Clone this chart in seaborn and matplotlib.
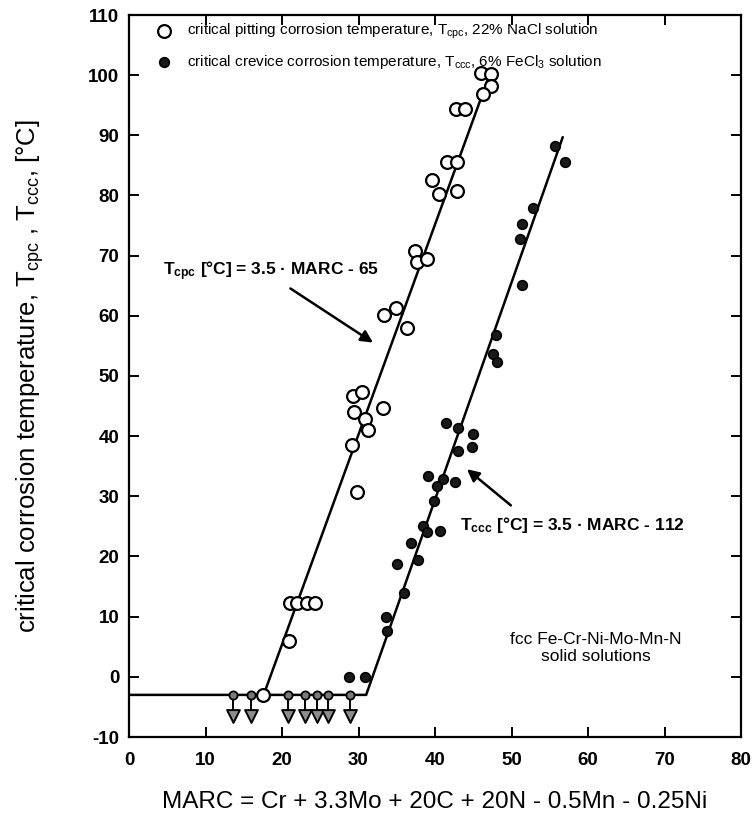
import matplotlib
matplotlib.use("Agg")
import matplotlib.pyplot as plt
import seaborn as sns
import pandas as pd
import numpy as np

# ---- data ----
cpc_x = [46.0, 47.3, 47.3, 46.3, 42.7, 43.9, 41.6, 42.9, 39.6, 40.5, 42.9,
         37.4, 37.6, 38.9, 33.3, 34.9, 36.3, 29.3, 30.5, 29.4, 33.2, 30.8,
         31.2, 29.2, 29.8, 21.0, 21.9, 23.3, 24.3, 20.9, 17.5]
cpc_y = [100.3, 100.2, 98.2, 96.8, 94.3, 94.3, 85.5, 85.5, 82.5, 80.2, 80.8,
         70.8, 69.0, 69.5, 60.2, 61.3, 58.0, 46.7, 47.3, 44.0, 44.7, 42.8,
         41.0, 38.5, 30.7, 12.3, 12.3, 12.3, 12.3, 6.0, -3.0]

ccc_x = [55.7, 57.0, 52.8, 51.4, 51.1, 51.4, 48.0, 47.6, 48.1, 41.4, 43.0,
         45.0, 43.0, 44.8, 39.1, 41.0, 42.6, 40.3, 39.9, 38.4, 38.9, 40.7,
         36.9, 35.0, 37.8, 36.0, 33.6, 33.7, 28.8, 30.8]
ccc_y = [88.2, 85.5, 78.0, 75.3, 72.7, 65.2, 56.8, 53.7, 52.3, 42.2, 41.3,
         40.3, 37.5, 38.2, 33.3, 32.8, 32.3, 31.7, 29.2, 25.0, 24.0, 24.2,
         22.2, 18.8, 19.5, 14.0, 10.0, 7.7, 0.0, 0.0]

below_x = [13.6, 15.9, 20.8, 23.0, 24.6, 26.0, 28.9]
floor_level = -3.0
below_tip = -6.5

fit_cpc_x = [0.0, 17.6, 47.4]
fit_cpc_y = [-3.0, -3.0, 101.0]
fit_ccc_x = [17.6, 31.0, 56.7]
fit_ccc_y = [-3.0, -3.0, 89.7]

xticks = [0, 10, 20, 30, 40, 50, 60, 70, 80]
yticks = [-10, 0, 10, 20, 30, 40, 50, 60, 70, 80, 90, 100, 110]

legend_cpc = "critical pitting corrosion temperature, T$_\\mathregular{cpc}$, 22% NaCl solution"
legend_ccc = "critical crevice corrosion temperature, T$_\\mathregular{ccc}$, 6% FeCl$_\\mathregular{3}$ solution"
ann_cpc = "T$_\\mathregular{cpc}$ [°C] = 3.5 · MARC - 65"
ann_ccc = "T$_\\mathregular{ccc}$ [°C] = 3.5 · MARC - 112"
ann_alloy = "fcc Fe-Cr-Ni-Mo-Mn-N\nsolid solutions"
xlabel = "MARC = Cr + 3.3Mo + 20C + 20N - 0.5Mn - 0.25Ni"
ylabel = "critical corrosion temperature, T$_\\mathregular{cpc}$ , T$_\\mathregular{ccc}$, [°C]"

# ---- style ----
sns.set_style("ticks")
plt.rcParams['font.family'] = ['Liberation Sans', 'DejaVu Sans']
plt.rcParams['mathtext.default'] = 'regular'
plt.rcParams['axes.unicode_minus'] = False
plt.rcParams['text.color'] = 'black'
plt.rcParams['axes.labelcolor'] = 'black'
plt.rcParams['xtick.color'] = 'black'
plt.rcParams['ytick.color'] = 'black'
plt.rcParams['axes.edgecolor'] = 'black'

fig = plt.figure(figsize=(7.53, 8.25), dpi=100)
ax = fig.add_axes([129/753, 1 - 737/825, 612/753, 722/825])

# fit lines
sns.lineplot(x=fit_cpc_x, y=fit_cpc_y, ax=ax, color='black', lw=1.8, sort=False)
sns.lineplot(x=fit_ccc_x, y=fit_ccc_y, ax=ax, color='black', lw=1.8, sort=False)

# censored points (below detection)
bdf = pd.DataFrame({"x": below_x, "y": [floor_level]*len(below_x),
                    "tip": [below_tip]*len(below_x)})
ax.vlines(bdf["x"], bdf["y"], bdf["tip"] + 1.0, color='black', lw=1.4)
sns.scatterplot(data=bdf, x="x", y="tip", ax=ax, marker='v', s=85,
                color='#8c8c8c', edgecolor='black', linewidth=1.4, zorder=4)
sns.scatterplot(data=bdf, x="x", y="y", ax=ax, marker='o', s=35,
                color='#7a7a7a', edgecolor='black', linewidth=1.3, zorder=4)

# data points
cpc = pd.DataFrame({"x": cpc_x, "y": cpc_y})
ccc = pd.DataFrame({"x": ccc_x, "y": ccc_y})
sns.scatterplot(data=cpc, x="x", y="y", ax=ax, marker='o', s=85,
                facecolor='white', edgecolor='black', linewidth=1.6,
                zorder=5, label=legend_cpc)
sns.scatterplot(data=ccc, x="x", y="y", ax=ax, marker='o', s=48,
                color='#1a1a1a', edgecolor='black', linewidth=1.2,
                zorder=5, label=legend_ccc)

ax.set_xlim(0, 80)
ax.set_ylim(-10, 110)
ax.set_xticks(xticks)
ax.set_yticks(yticks)
ax.tick_params(direction='in', length=7, width=1.4, top=True, right=True,
               labelsize=13.5)
ax.tick_params(axis='y', pad=7)
ax.tick_params(axis='x', pad=11)
for lab in ax.get_xticklabels() + ax.get_yticklabels():
    lab.set_fontweight('bold')
for sp in ax.spines.values():
    sp.set_linewidth(1.6)
    sp.set_visible(True)

ax.set_xlabel(xlabel, fontsize=17.5, labelpad=16)
ax.set_ylabel(ylabel, fontsize=18.5, labelpad=30)

leg = ax.legend(loc='upper left', bbox_to_anchor=(0.015, 1.005), frameon=False,
                fontsize=11, handletextpad=0.5, labelspacing=0.75,
                borderaxespad=0.3)

# annotations
ax.text(4.4, 67.5, ann_cpc, fontsize=12.5, fontweight='bold', va='center', ha='left')
ax.annotate("", xy=(32.2, 55.3), xytext=(20.8, 64.8),
            arrowprops=dict(arrowstyle='-|>', color='black', lw=1.8,
                            mutation_scale=18))
ax.text(43.3, 25.3, ann_ccc, fontsize=12.5, fontweight='bold', va='center', ha='left')
ax.annotate("", xy=(43.9, 34.8), xytext=(50.2, 28.2),
            arrowprops=dict(arrowstyle='-|>', color='black', lw=1.8,
                            mutation_scale=18, facecolor='white'))
ax.text(61.0, 4.8, ann_alloy, fontsize=12.5, va='center', ha='center',
        linespacing=1.15)

fig.savefig("out.png", dpi=100)
